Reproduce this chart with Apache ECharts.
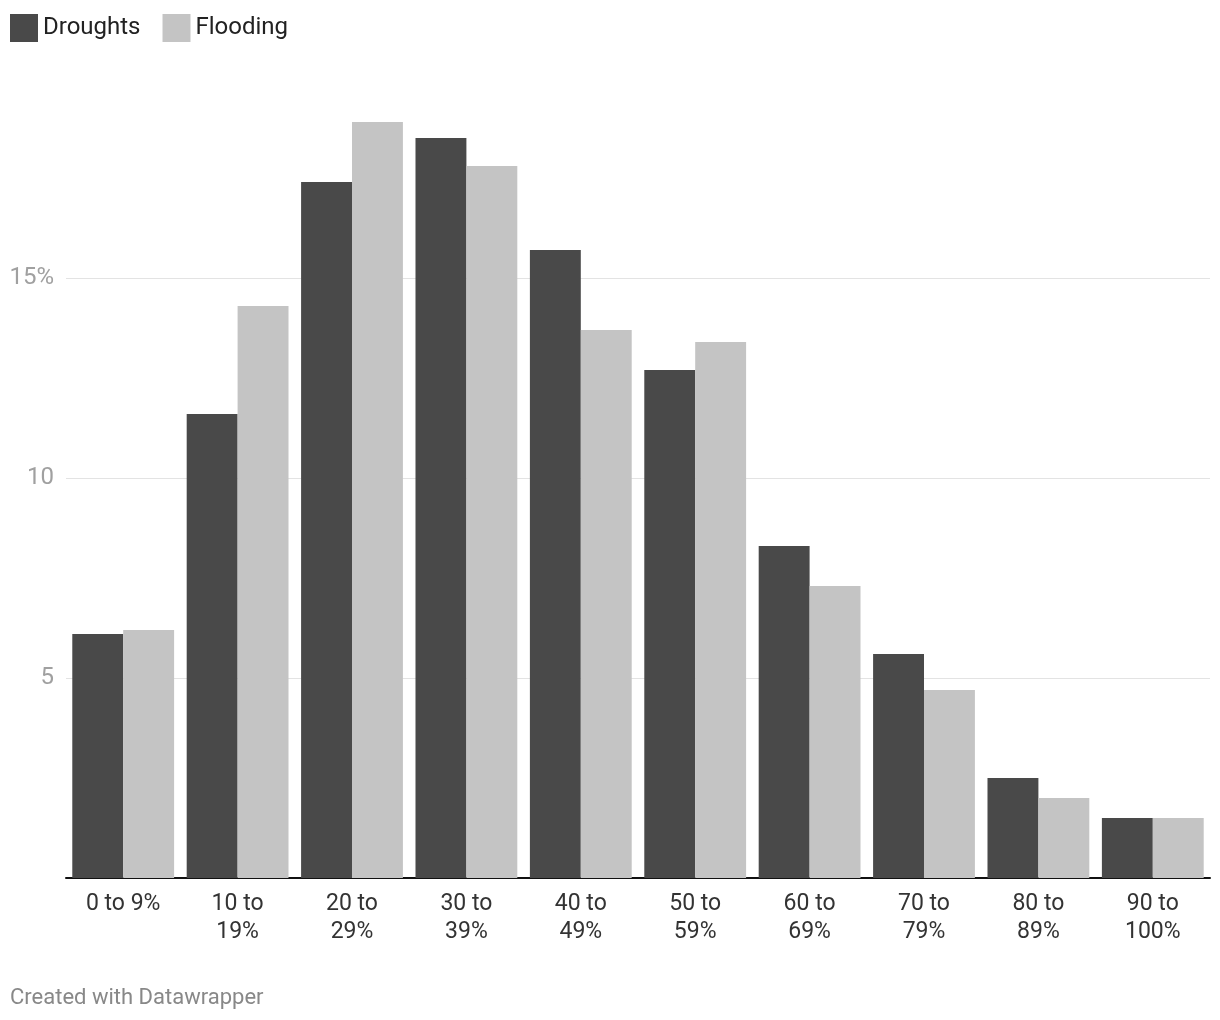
<!DOCTYPE html>
<html>
<head>
<meta charset="utf-8">
<script src="https://cdn.jsdelivr.net/npm/echarts@6/dist/echarts.min.js"></script>
<style>html,body{margin:0;padding:0;background:#fff;}#c{width:1220px;height:1020px;}</style>
</head>
<body>
<div id="c"></div>
<script>
const categories = ['0 to 9%', '10 to\n19%', '20 to\n29%', '30 to\n39%', '40 to\n49%', '50 to\n59%', '60 to\n69%', '70 to\n79%', '80 to\n89%', '90 to\n100%'];
const droughts = [6.1, 11.6, 17.4, 18.5, 15.7, 12.7, 8.3, 5.6, 2.5, 1.5];
const flooding = [6.2, 14.3, 18.9, 17.8, 13.7, 13.4, 7.3, 4.7, 2.0, 1.5];
const yTicks = [5, 10, 15];

const chart = echarts.init(document.getElementById('c'), null, {renderer: 'canvas'});
chart.setOption({
  animation: false,
  textStyle: {fontFamily: 'Roboto'},
  legend: {
    left: 10, top: 14, padding: 0, itemWidth: 28, itemHeight: 28, itemGap: 22,
    icon: 'rect',
    textStyle: {fontSize: 24, color: '#222', fontFamily: 'Roboto'},
    data: ['Droughts', 'Flooding']
  },
  graphic: [{
    type: 'text', left: 10, top: 987,
    style: {text: 'Created with Datawrapper', fontSize: 22, fill: '#888', fontFamily: 'Roboto'}
  }],
  grid: {left: 66, right: 10, top: 78, bottom: 142, containLabel: false},
  xAxis: {
    type: 'category', data: categories,
    axisLine: {lineStyle: {color: '#111', width: 2}},
    axisTick: {show: false},
    axisLabel: {fontSize: 23, color: '#333', lineHeight: 28, margin: 12, interval: 0, fontFamily: 'Roboto'}
  },
  yAxis: {
    type: 'value', min: 0, max: 20, interval: 5,
    axisLine: {show: false}, axisTick: {show: false},
    splitLine: {lineStyle: {color: '#e3e3e3', width: 1}, showMinLine: false, showMaxLine: false},
    axisLabel: {
      fontSize: 24, color: '#a0a0a0', margin: 12, fontFamily: 'Roboto', padding: [3, 0, 0, 0],
      formatter: v => yTicks.indexOf(v) < 0 ? '' : (v === 15 ? v + '%' : String(v))
    }
  },
  series: [
    {name: 'Droughts', type: 'bar', data: droughts, itemStyle: {color: '#494949'}, barGap: '0%', barCategoryGap: '11%'},
    {name: 'Flooding', type: 'bar', data: flooding, itemStyle: {color: '#c4c4c4'}, barGap: '0%', barCategoryGap: '11%'}
  ]
});
</script>
</body>
</html>
